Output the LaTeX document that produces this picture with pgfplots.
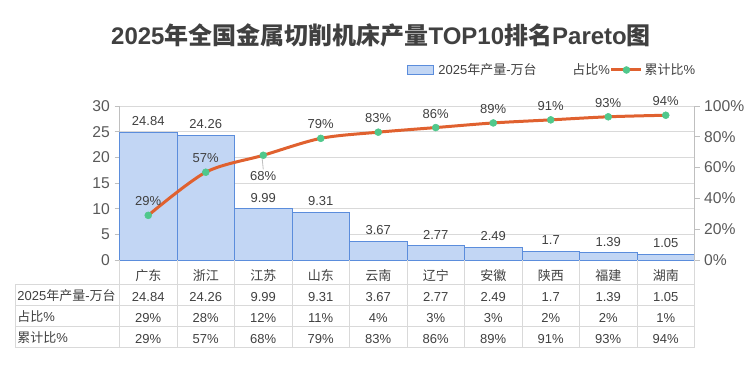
\documentclass[border=0pt]{standalone}
\usepackage{fontspec}
\setmainfont{Liberation Sans}
\newfontfamily\cjk{Noto Sans CJK SC}
\usepackage{pgfplots}
\pgfplotsset{compat=1.18}
\usepackage{pgfplotstable}
\definecolor{barfill}{RGB}{194,214,244}
\definecolor{barline}{RGB}{91,141,220}
\definecolor{linecol}{RGB}{224,97,47}
\definecolor{mkcol}{RGB}{80,200,140}
\definecolor{gridc}{RGB}{217,217,217}
\definecolor{axisc}{RGB}{191,191,191}
\definecolor{txt}{RGB}{64,64,64}
\definecolor{ticktxt}{RGB}{89,89,89}
\pgfplotstableread{
x prod share cum
0 24.84 29 29
1 24.26 28 57
2 9.99 12 68
3 9.31 11 79
4 3.67 4 83
5 2.77 3 86
6 2.49 3 89
7 1.7 2 91
8 1.39 2 93
9 1.05 1 94
}\data
\begin{document}
\begin{tikzpicture}
\path[use as bounding box] (0,0) rectangle (564pt,-276pt);
\pgfplotsset{
  common/.style={
    at={(89.625pt,-195pt)}, anchor=south west,
    scale only axis, width=431.25pt, height=115.5pt,
    xmin=-0.5, xmax=9.5, clip=false,
    /pgf/number format/assume math mode=true,
    axis line style={draw=axisc, line width=0.75pt, -},
    tick align=outside, major tick length=3.75pt,
    ytick style={draw=axisc, line width=0.75pt},
    yticklabel style={font=\fontsize{11.75}{14}\selectfont, text=ticktxt},
  }
}
\begin{axis}[common,
  ymin=0, ymax=30, ytick={0,5,...,30},
  axis x line*=bottom, axis y line*=left,
  ymajorgrids, grid style={draw=gridc, line width=0.75pt},
  xtick={0,...,9}, xtick style={draw=none},
  xticklabel style={font=\fontsize{9.75}{15.75}\selectfont, text=txt, align=center, inner sep=0pt, yshift=-3pt},
  xticklabels={
    {{\cjk 广东}\\24.84\\29\%\\29\%},
    {{\cjk 浙江}\\24.26\\28\%\\57\%},
    {{\cjk 江苏}\\9.99\\12\%\\68\%},
    {{\cjk 山东}\\9.31\\11\%\\79\%},
    {{\cjk 云南}\\3.67\\4\%\\83\%},
    {{\cjk 辽宁}\\2.77\\3\%\\86\%},
    {{\cjk 安徽}\\2.49\\3\%\\89\%},
    {{\cjk 陕西}\\1.7\\2\%\\91\%},
    {{\cjk 福建}\\1.39\\2\%\\93\%},
    {{\cjk 湖南}\\1.05\\1\%\\94\%}},
  title={\bfseries 2025{\cjk 年全国金属切削机床产量}TOP10{\cjk 排名}Pareto{\cjk 图}},
  title style={at={(0.4548,1.405)}, anchor=center, yshift=0pt, font=\fontsize{18}{22}\selectfont, text=txt, inner sep=0pt},
]
\addplot[ybar, bar width=1, fill=barfill, draw=barline, line width=0.75pt,
  nodes near coords,
  every node near coord/.append style={font=\fontsize{9.75}{12}\selectfont, text=txt, inner sep=0pt, yshift=4.5pt}]
  table[x=x, y=prod] {\data};
\end{axis}
\begin{axis}[common,
  ymin=0, ymax=100, ytick={0,20,...,100},
  axis y line*=right, axis x line=none,
  yticklabel={\pgfmathprintnumber{\tick}\%},
  legend columns=3,
  legend style={draw=none, fill=none, inner sep=0pt, outer sep=0pt, column sep=0pt,
    nodes={inner sep=0pt, text=txt, font=\fontsize{9.75}{12}\selectfont},
    at={(0.4994,1.2338)}, anchor=west},
]
\addlegendimage{legend image code/.code={\draw[fill=barfill, draw=barline, line width=0.75pt] (0pt,-3.25pt) rectangle (19.5pt,3.25pt); \path (23.25pt,0pt);}}
\addlegendentry{2025{\cjk 年产量}-{\cjk 万台}\rule{26.8pt}{0pt}}
\addlegendimage{legend image code/.code={}}
\addlegendentry{{\cjk 占比}\%}
\addlegendimage{legend image code/.code={\draw[linecol, line width=2.25pt] (0.75pt,0pt) -- (23.25pt,0pt); \fill[mkcol] (12pt,0pt) circle (2.6pt); \path (25.5pt,0pt);}}
\addlegendentry{{\cjk 累计比}\%}
\addplot[linecol, line width=2.25pt, smooth, tension=0.5, no marks, forget plot]
  table[x=x, y=cum] {\data};
\addplot[only marks, mark=*, mark size=2.6pt, mark options={fill=mkcol, draw=mkcol},
  skip coords between index={2}{3}, forget plot,
  nodes near coords={\pgfmathprintnumber{\pgfplotspointmeta}\%},
  every node near coord/.append style={font=\fontsize{9.75}{12}\selectfont, text=txt, inner sep=0pt, anchor=south, yshift=6.75pt}]
  table[x=x, y=cum] {\data};
\addplot[only marks, mark=*, mark size=2.6pt, mark options={fill=mkcol, draw=mkcol},
  restrict x to domain=1.5:2.5, forget plot,
  nodes near coords={\pgfmathprintnumber{\pgfplotspointmeta}\%},
  every node near coord/.append style={font=\fontsize{9.75}{12}\selectfont, text=txt, inner sep=0pt, anchor=north, yshift=-12pt,
    append after command={([yshift=1.5pt]\tikzlastnode.north) edge[draw=axisc, line width=0.6pt] ++(-0.8pt,8pt)}}]
  table[x=x, y=cum] {\data};
\end{axis}
% data table grid
\begin{scope}[draw=gridc, line width=0.75pt]
\foreach \yy in {-213.2,-229.3,-244.7,-260.25} {\draw (11.25pt,\yy pt) -- (520.875pt,\yy pt);}
\foreach \k in {0,...,10} {\draw ({89.625pt+43.125pt*\k},-195pt) -- ({89.625pt+43.125pt*\k},-260.25pt);}
\draw (11.25pt,-213.2pt) -- (11.25pt,-260.25pt);
\end{scope}
\begin{scope}[every node/.style={anchor=base west, inner sep=0pt, text=txt, font=\fontsize{9.75}{12}\selectfont}]
\node at (12.9pt,-225pt) {2025{\cjk 年产量}-{\cjk 万台}};
\node at (12.9pt,-240.75pt) {{\cjk 占比}\%};
\node at (12.9pt,-256.5pt) {{\cjk 累计比}\%};
\end{scope}
\end{tikzpicture}
\end{document}
